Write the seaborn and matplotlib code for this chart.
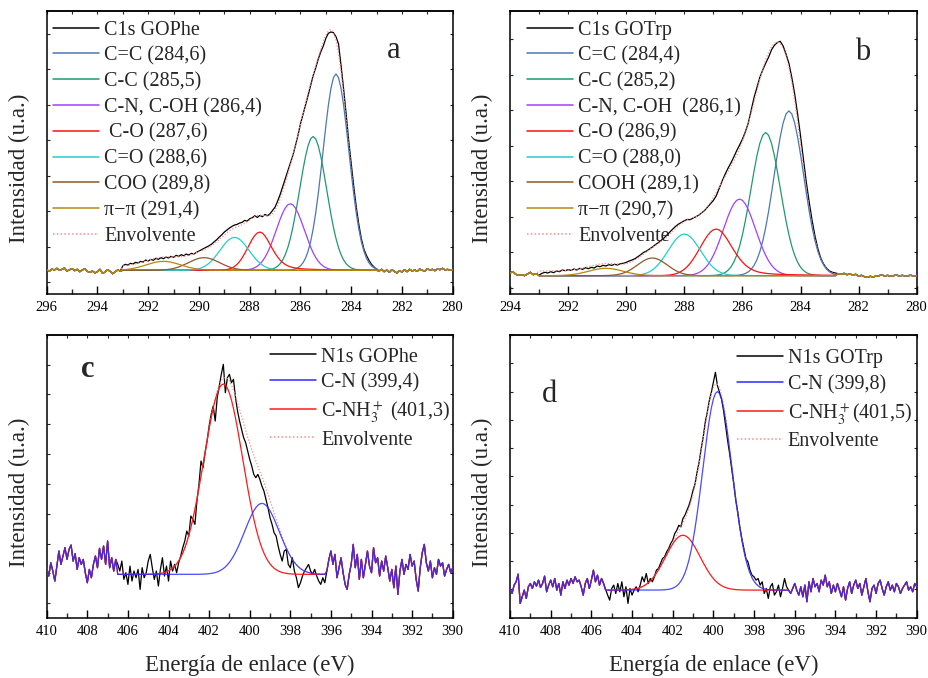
import numpy as np
import matplotlib
matplotlib.use("Agg")
import matplotlib.pyplot as plt
from matplotlib.ticker import MultipleLocator
from matplotlib.lines import Line2D
import seaborn as sns

# ---------------------------------------------------------------
# Spectra (intensity in arbitrary units, 0.1 eV steps, high -> low BE)
# ---------------------------------------------------------------

# C1s GOPhe: 296.0 -> 280.0 eV
phe_c1s_energy = (296.0, 280.0)
phe_c1s_counts = [
    2, -3, 4, 1, 6, 0, 3, 7, -2, 2,                 # 296.0
    5, -1, 3, -4, 1, 5, -3, -6, -2, -8,             # 295.0
    -4, 3, -9, -5, 2, -3, -10, -4, 1, -2,           # 294.0
    14, 18, 16, 21, 19, 24, 22, 27, 25, 31,         # 293.0
    28, 33, 30, 36, 33, 38, 35, 40, 37, 42,         # 292.0
    39, 45, 42, 47, 44, 49, 46, 51, 49, 54,         # 291.0
    58, 62, 66, 70, 74, 79, 86, 92, 100, 107,       # 290.0
    115, 121, 127, 132, 136, 138, 142, 144, 150, 148,   # 289.0
    155, 158, 164, 159, 165, 161, 168, 164, 170, 180,   # 288.0
    190, 208, 228, 252, 275, 298, 320, 345, 374, 405,   # 287.0
    440, 468, 497, 525, 555, 585, 608, 634, 656, 674,   # 286.0
    697, 712, 716, 714, 702, 680, 615, 545, 470, 390,   # 285.0
    320, 252, 190, 138, 95, 64, 45, 30, 18, 10,         # 284.0
    4, -2, 3, -4, 1, -6, 2, -3, -8, -1,             # 283.0
    -5, 2, -4, 3, -2, 1, -3, 4, 0, -2,              # 282.0
    5, 1, 3, -1, 4, 2, 6, 1, 3, 0,                  # 281.0
    2,                                              # 280.0
]
phe_c1s_window = (283.0, 293.0)
phe_c1s_background = 12
phe_c1s_labels = ["C=C (284,6)", "C-C (285,5)", "C-N, C-OH (286,4)", " C-O (287,6)",
                  "C=O (288,6)", "COO (289,8)", "\u03c0\u2212\u03c0 (291,4)"]
phe_c1s_centers = [284.6, 285.5, 286.4, 287.6, 288.6, 289.8, 291.4]
phe_c1s_heights = [590, 402, 200, 115, 99, 38, 27]
phe_c1s_fwhm = [1.2, 1.25, 1.3, 1.1, 1.35, 1.45, 1.6]
phe_c1s_tail = [0.0, 0.0, 0.0, 0.4, 0.0, 0.0, 0.0]

# C1s GOTrp: 294.0 -> 280.0 eV
trp_c1s_energy = (294.0, 280.0)
trp_c1s_counts = [
    8, 12, 4, 1, 3, 0, 5, 10, 3, 6,                 # 294.0
    2, 7, 10, 8, 12, 9, 14, 12, 17, 15,             # 293.0
    18, 16, 20, 17, 22, 19, 24, 21, 25, 23,         # 292.0
    29, 27, 31, 29, 33, 31, 34, 32, 36, 37,         # 291.0
    40, 44, 47, 51, 57, 63, 70, 74, 80, 86,         # 290.0
    93, 99, 106, 113, 122, 131, 140, 148, 155, 160,     # 289.0
    165, 169, 168, 173, 177, 182, 189, 196, 206, 216,   # 288.0
    226, 240, 262, 284, 304, 322, 338, 356, 375, 392,   # 287.0
    410, 432, 458, 496, 535, 565, 596, 618, 638, 656,   # 286.0
    678, 692, 700, 704, 690, 666, 638, 595, 545, 485,   # 285.0
    420, 350, 280, 220, 165, 118, 80, 52, 34, 22,       # 284.0
    14, 10, 8, 6, 4, 7, 3, 5, 2, 4,                 # 283.0
    -1, 1, -3, -5, -2, -4, -1, 0, 2, -1,            # 282.0
    1, -2, 0, 2, -1, 1, -1, 0, 1, -1,               # 281.0
    0,                                              # 280.0
]
trp_c1s_window = (282.8, 293.0)
trp_c1s_background = 14
trp_c1s_labels = ["C=C (284,4)", "C-C (285,2)", "C-N, C-OH  (286,1)", "C-O (286,9)",
                  "C=O (288,0)", "COOH (289,1)", "\u03c0\u2212\u03c0 (290,7)"]
trp_c1s_centers = [284.4, 285.2, 286.1, 286.9, 288.0, 289.1, 290.7]
trp_c1s_heights = [495, 430, 230, 140, 125, 53, 22]
trp_c1s_fwhm = [1.2, 1.19, 1.3, 1.3, 1.3, 1.2, 1.4]
trp_c1s_tail = [0.0, 0.0, 0.0, 0.35, 0.0, 0.0, 0.0]

c1s_colors = ["#4a78b5", "#1f9a6e", "#a040ff", "#ff1010", "#20d0d0", "#8b5a2b", "#b8860b"]

# N1s GOPhe: 410.0 -> 390.0 eV
phe_n1s_energy = (410.0, 390.0)
phe_n1s_counts = [
    20, -5, 35, 10, -20, 25, 70, 30, 55, 80,        # 410.0
    45, 75, 88, 40, 62, 15, 50, 30, 45, 5,          # 409.0
    -25, 15, -10, 30, 55, 20, 78, 45, 85, 30,       # 408.0
    100, 20, 50, 10, 45, 30, 10, 40, -15, 5,        # 407.0
    -30, 25, -20, 10, -10, 15, -45, 20, -10, 5,     # 406.0
    40, 60, 20, -15, 10, -35, 15, 50, -5, 25,       # 405.0
    -20, 40, 10, 30, 5, 35, 55, 80, 100, 130,       # 404.0
    115, 175, 165, 150, 220, 270, 340, 320, 365, 400,   # 403.0
    445, 480, 505, 460, 530, 565, 600, 630, 545, 590,   # 402.0
    600, 575, 585, 530, 490, 460, 435, 410, 395, 370,   # 401.0
    345, 325, 300, 290, 300, 285, 265, 250, 225, 200,   # 400.0
    170, 150, 125, 115, 85, 60, 40, 70, 75, 30,     # 399.0
    20, 50, 10, -10, -40, -25, -5, 10, 20, 30,      # 398.0
    10, 0, 15, -5, -20, -30, -10, -25, 10, 45,      # 397.0
    70, 30, 60, -10, 20, 50, 5, -30, -45, 0,        # 396.0
    30, 90, 20, 60, -15, 45, -10, 30, 70, 25,       # 395.0
    5, 80, 35, 50, -5, 40, 10, 55, 20, -20,         # 394.0
    15, -40, 25, -60, 10, 45, 0, 30, 15, 60,        # 393.0
    25, 40, -15, -50, 20, 65, 90, 35, 10, 40,       # 392.0
    -10, 20, 0, 45, 25, 35, -5, 15, 30, 5,          # 391.0
    20,                                             # 390.0
]
phe_n1s_window = (396.3, 406.5)
phe_n1s_background = 0
phe_n1s_labels = ["C-N (399,4)", "C-NH$_3^+$ (401,3)"]
phe_n1s_centers = [399.4, 401.3]
phe_n1s_heights = [213, 571]
phe_n1s_fwhm = [2.0, 2.25]
phe_n1s_tail = [0.0, 0.0]

# N1s GOTrp: 410.0 -> 390.0 eV
trp_n1s_energy = (410.0, 390.0)
trp_n1s_counts = [
    5, -10, 15, 25, 48, -40, -20, 0, -25, 10,       # 410.0
    20, 5, 25, 12, 30, 8, 20, 42, -5, 15,           # 409.0
    30, 10, 35, 0, 20, -15, 25, 5, 30, 15,          # 408.0
    35, 20, 40, 25, 30, 10, -15, 20, 35, 5,         # 407.0
    30, 60, 25, 45, 15, 35, 20, 2, -15, -30,        # 406.0
    5, 15, -10, 20, -5, 25, -20, 10, -40, 5,        # 405.0
    -15, 0, 10, -5, 15, 40, 25, 50, 20, 35,         # 404.0
    25, 40, 60, 65, 80, 95, 100, 115, 125, 140,     # 403.0
    150, 170, 180, 195, 190, 215, 225, 240, 255, 275,   # 402.0
    300, 320, 355, 385, 425, 460, 505, 535, 570, 595,   # 401.0
    625, 655, 615, 595, 575, 540, 495, 450, 410, 365,   # 400.0
    320, 270, 235, 190, 155, 125, 95, 85, 60, 45,   # 399.0
    40, 30, 35, 15, 25, -10, 5, -25, 10, 20,        # 398.0
    -15, -5, 15, -20, 5, 35, 10, 0, -10, 5,         # 397.0
    20, 0, -15, 10, -20, 15, -35, 25, -5, 35,       # 396.0
    10, 20, -5, 30, 15, 45, 10, 25, -10, 15,        # 395.0
    -5, 20, 0, -20, 10, -30, 5, 25, -10, 15,        # 394.0
    30, 5, 20, -15, 10, 35, -5, -35, 5, 15,         # 393.0
    -10, 20, 30, 5, -15, 10, 25, 0, 15, -5,         # 392.0
    20, 10, -10, 5, 15, 25, 0, 10, -5, 20,          # 391.0
    10,                                             # 390.0
]
trp_n1s_window = (396.3, 405.3)
trp_n1s_background = 0
trp_n1s_labels = ["C-N (399,8)", "C-NH$_3^+$(401,5)"]
trp_n1s_centers = [399.8, 401.5]
trp_n1s_heights = [597, 165]
trp_n1s_fwhm = [1.7, 2.0]
trp_n1s_tail = [0.0, 0.0]

n1s_colors = ["#2a2aff", "#ff1a1a"]
n1s_alpha = [0.85, 1.0]
envelope_color = "#ff8a8a"
dotted = (0, (1, 1.5))


# ---------------------------------------------------------------
def band(energy, center, height, fwhm, tail):
    """Gaussian band; `tail` mixes in a Lorentzian on the low-BE side."""
    d = energy - center
    g = np.exp(-4.0 * np.log(2.0) * (d / fwhm) ** 2)
    lor = 1.0 / (1.0 + 4.0 * (d / fwhm) ** 2)
    low = (1.0 - tail) * g + tail * lor
    return height * np.where(d < 0, low, g)


def shirley_step(total, level):
    """Step background that grows with the band area lying at lower BE."""
    area_below = np.cumsum(total[::-1])[::-1]
    return level * area_below / area_below.max()


def draw_spectrum(ax, span, counts, window, background, title, labels, centers,
                  heights, fwhm, tails, colors, zorders, alphas=None):
    counts = np.asarray(counts, dtype=float)
    n_expected = int(round(abs(span[0] - span[1]) / 0.1)) + 1
    if len(counts) != n_expected:
        raise ValueError(f"{title}: {len(counts)} points, expected {n_expected}")
    energy = np.linspace(span[0], span[1], len(counts))
    inside = (energy >= window[0] - 1e-9) & (energy <= window[1] + 1e-9)
    if alphas is None:
        alphas = [1.0] * len(colors)

    fitted = [band(energy, c, h, w, t) * inside
              for c, h, w, t in zip(centers, heights, fwhm, tails)]
    total = np.sum(fitted, axis=0)
    components = [np.where(inside, f, counts) for f in fitted]
    envelope = np.where(inside, total + shirley_step(total, background), counts)

    kw = dict(ax=ax, sort=False, estimator=None, errorbar=None, legend=False)
    sns.lineplot(x=energy, y=counts, color="black", linewidth=0.9, zorder=2, **kw)
    sns.lineplot(x=energy, y=envelope, color=envelope_color, linewidth=0.9,
                 linestyle=dotted, zorder=3, **kw)
    for comp, col, z, a in zip(components, colors, zorders, alphas):
        sns.lineplot(x=energy, y=comp, color=col, linewidth=0.9, zorder=z, alpha=a, **kw)

    handles = [Line2D([], [], color="black", lw=1.1)]
    handles += [Line2D([], [], color=c, lw=1.1) for c in colors]
    handles += [Line2D([], [], color=envelope_color, lw=1.1, ls=dotted)]
    return handles, [title] + list(labels) + ["Envolvente"]


def style_axes(ax, span, ylim, ystep, yoff):
    ax.set_xlim(span[0], span[1])
    ax.set_ylim(*ylim)
    ax.xaxis.set_major_locator(MultipleLocator(2))
    ax.xaxis.set_minor_locator(MultipleLocator(1))
    ax.yaxis.set_major_locator(MultipleLocator(ystep, offset=yoff))
    ax.tick_params(axis="x", which="major", direction="in", length=6, width=1.0,
                   labelsize=10.5, pad=5, top=False, bottom=True, colors="black")
    ax.tick_params(axis="x", which="minor", direction="in", length=3.5, width=1.0,
                   top=False, bottom=True)
    ax.tick_params(axis="y", which="major", direction="in", length=2.5, width=0.8,
                   left=True, right=True, labelleft=False)
    top = ax.secondary_xaxis("top")
    top.xaxis.set_major_locator(MultipleLocator(1))
    top.tick_params(direction="in", length=2.5, width=0.8, labeltop=False)
    for s in ax.spines.values():
        s.set_linewidth(1.1)
        s.set_color("black")
    ax.set_ylabel("Intensidad (u.a.)", fontsize=16.5)
    ax.yaxis.set_label_coords(-0.041, 0.443)
    ax.set_xlabel("")


sns.set_theme(style="ticks")
plt.rcParams["font.family"] = ["Liberation Serif", "DejaVu Serif"]
plt.rcParams["mathtext.fontset"] = "stix"

fig = plt.figure(figsize=(9.29, 6.78), dpi=100)
ax_a = fig.add_axes([0.0503, 0.5664, 0.4370, 0.4174])
ax_b = fig.add_axes([0.5490, 0.5664, 0.4378, 0.4174])
ax_c = fig.add_axes([0.0503, 0.0889, 0.4370, 0.4170])
ax_d = fig.add_axes([0.5490, 0.0889, 0.4378, 0.4170])

legend_kw = dict(frameon=False, fontsize=14.5, handlelength=2.3, handletextpad=0.25,
                 labelspacing=0.325, borderpad=0, borderaxespad=0, loc="upper left")

# a
h, l = draw_spectrum(ax_a, phe_c1s_energy, phe_c1s_counts, phe_c1s_window, phe_c1s_background,
                     "C1s GOPhe", phe_c1s_labels, phe_c1s_centers, phe_c1s_heights,
                     phe_c1s_fwhm, phe_c1s_tail, c1s_colors, range(4, 11))
style_axes(ax_a, phe_c1s_energy, (-71, 779), 106.7, -36)
ax_a.legend(h, l, bbox_to_anchor=(0.0148, 0.966), **legend_kw)
ax_a.text(0.855, 0.834, "a", transform=ax_a.transAxes, fontsize=22, ha="center", va="baseline")

# b
h, l = draw_spectrum(ax_b, trp_c1s_energy, trp_c1s_counts, trp_c1s_window, trp_c1s_background,
                     "C1s GOTrp", trp_c1s_labels, trp_c1s_centers, trp_c1s_heights,
                     trp_c1s_fwhm, trp_c1s_tail, c1s_colors, range(4, 11))
style_axes(ax_b, trp_c1s_energy, (-55, 795), 106.7, -36)
ax_b.legend(h, l, bbox_to_anchor=(0.041, 0.966), **legend_kw)
ax_b.text(0.866, 0.827, "b", transform=ax_b.transAxes, fontsize=22, ha="center", va="baseline")

# c
h, l = draw_spectrum(ax_c, phe_n1s_energy, phe_n1s_counts, phe_n1s_window, phe_n1s_background,
                     "N1s GOPhe", phe_n1s_labels, phe_n1s_centers, phe_n1s_heights,
                     phe_n1s_fwhm, phe_n1s_tail, n1s_colors, [5, 4], n1s_alpha)
style_axes(ax_c, phe_n1s_energy, (-130, 718), 89.5, 3)
ax_c.legend(h, l, bbox_to_anchor=(0.55, 0.956), **legend_kw)
ax_c.text(0.102, 0.851, "c", transform=ax_c.transAxes, fontsize=22, fontweight="bold",
          ha="center", va="baseline")

# d
h, l = draw_spectrum(ax_d, trp_n1s_energy, trp_n1s_counts, trp_n1s_window, trp_n1s_background,
                     "N1s GOTrp", trp_n1s_labels, trp_n1s_centers, trp_n1s_heights,
                     trp_n1s_fwhm, trp_n1s_tail, n1s_colors, [5, 4], n1s_alpha)
style_axes(ax_d, trp_n1s_energy, (-83, 767), 85, 2)
ax_d.legend(h, l, bbox_to_anchor=(0.557, 0.95), **legend_kw)
ax_d.text(0.098, 0.763, "d", transform=ax_d.transAxes, fontsize=22, ha="center", va="baseline")

for ax in (ax_c, ax_d):
    ax.set_xlabel("Energía de enlace (eV)", fontsize=16.5)
    ax.xaxis.set_label_coords(0.5, -0.13)
    ax.xaxis.label.set_va("top")

fig.savefig("out.png", dpi=100)
